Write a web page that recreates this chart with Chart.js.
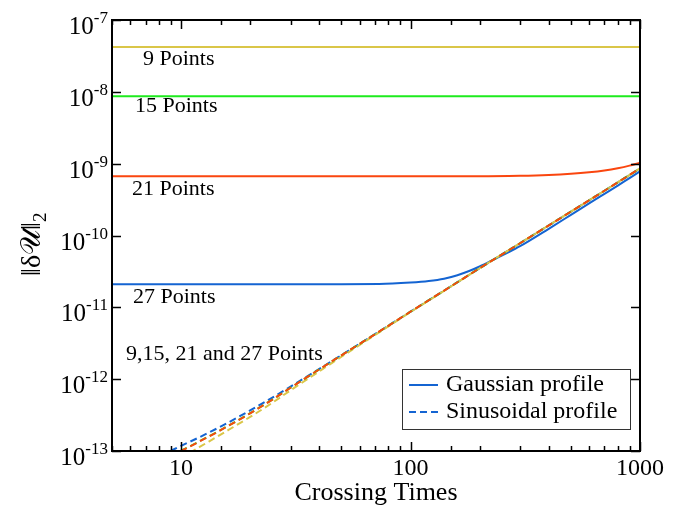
<!DOCTYPE html>
<html>
<head>
<meta charset="utf-8">
<script src="https://cdn.jsdelivr.net/npm/chart.js@4.4.0/dist/chart.umd.min.js"></script>
<style>
  body { margin: 0; background: #fff; }
  canvas { display: block; }
</style>
</head>
<body>
<canvas id="chart" width="688" height="508"></canvas>
<script>
// values (crossing times vs error norm)
const flatTimes = [5, 1000];
const gauss9 = [4.2e-8, 4.2e-8];
const gauss15 = [8.7e-9, 8.7e-9];

const times21 = [5, 200, 300, 400, 500, 600, 700, 800, 900, 1000];
const gauss21 = [6.7e-10, 6.7e-10, 6.8e-10, 6.98e-10, 7.25e-10, 7.6e-10, 8.05e-10, 8.65e-10, 9.4e-10, 1.03e-9];

const times27 = [5, 50, 73, 100, 120, 140, 160, 180, 200, 230, 260, 300, 400, 500, 600, 700, 800, 900, 1000];
const gauss27 = [2.1e-11, 2.1e-11, 2.11e-11, 2.21e-11, 2.32e-11, 2.5e-11, 2.8e-11, 3.2e-11, 3.7e-11, 4.6e-11, 5.6e-11, 7.1e-11, 1.24e-10, 1.94e-10, 2.8e-10, 3.8e-10, 4.95e-10, 6.3e-10, 7.8e-10];

const sinTimes = [9, 10, 12, 15, 20, 25, 30, 50, 70, 100, 150, 200, 300, 500, 700, 1000];
const sin27 = [1.0e-13, 1.18e-13, 1.55e-13, 2.22e-13, 3.67e-13, 5.55e-13, 7.87e-13, 2.16e-12, 4.24e-12, 8.7e-12, 1.96e-11, 3.5e-11, 7.8e-11, 2.15e-10, 4.2e-10, 8.6e-10];
const sin21 = [0.85e-13, 1.0e-13, 1.35e-13, 1.98e-13, 3.35e-13, 5.2e-13, 7.6e-13, 2.15e-12, 4.22e-12, 8.7e-12, 1.96e-11, 3.5e-11, 7.8e-11, 2.15e-10, 4.2e-10, 8.6e-10];
const sin15 = [0.86e-13, 1.01e-13, 1.36e-13, 1.99e-13, 3.36e-13, 5.2e-13, 7.6e-13, 2.15e-12, 4.22e-12, 8.7e-12, 1.96e-11, 3.5e-11, 7.8e-11, 2.15e-10, 4.2e-10, 8.6e-10];
const sin9 = [0.66e-13, 0.8e-13, 1.13e-13, 1.72e-13, 2.98e-13, 4.7e-13, 7.0e-13, 2.05e-12, 4.12e-12, 8.6e-12, 1.95e-11, 3.5e-11, 7.8e-11, 2.15e-10, 4.2e-10, 8.6e-10];

const xLabels = [10, 100, 1000];
const yDecades = [-13, -12, -11, -10, -9, -8, -7];
const legendNames = ['Gaussian profile', 'Sinusoidal profile'];
const noteTexts = ['9 Points', '15 Points', '21 Points', '27 Points', '9,15, 21 and 27 Points'];

const YELLOW = 'rgb(218,198,72)';
const GREEN = 'rgb(30,235,30)';
const ORANGE = 'rgb(250,70,15)';
const BLUE = 'rgb(20,100,210)';
const SERIF = '"Liberation Serif", "DejaVu Serif", serif';

function pts(xs, ys) {
  return xs.map((v, i) => ({ x: v, y: ys[i] }));
}

function line(data, color, dashed, order) {
  return {
    data: data,
    borderColor: color,
    borderWidth: 2,
    borderDash: dashed ? [7, 4] : [],
    pointRadius: 0,
    fill: false,
    cubicInterpolationMode: 'monotone',
    order: order
  };
}

// frame, inward ticks, y labels, notes and legend
const decorations = {
  id: 'decorations',
  afterDatasetsDraw(chart) {
    const { ctx, chartArea: a, scales: { x, y } } = chart;
    ctx.save();

    ctx.strokeStyle = '#000';
    ctx.lineWidth = 1.5;
    ctx.beginPath();
    x.ticks.forEach(t => {
      const px = Math.round(x.getPixelForValue(t.value)) + 0.5;
      const major = Math.abs(Math.log10(t.value) - Math.round(Math.log10(t.value))) < 1e-6;
      const len = major ? 9 : 5;
      ctx.moveTo(px, a.bottom); ctx.lineTo(px, a.bottom - len);
      ctx.moveTo(px, a.top); ctx.lineTo(px, a.top + len);
    });
    yDecades.forEach(d => {
      const py = Math.round(y.getPixelForValue(Math.pow(10, d))) + 0.5;
      ctx.moveTo(a.left, py); ctx.lineTo(a.left + 9, py);
      ctx.moveTo(a.right, py); ctx.lineTo(a.right - 9, py);
    });
    ctx.stroke();

    ctx.lineWidth = 2;
    ctx.strokeRect(a.left, a.top, a.right - a.left, a.bottom - a.top);

    // y tick labels 10^n
    ctx.fillStyle = '#000';
    ctx.textBaseline = 'alphabetic';
    yDecades.forEach(d => {
      const py = y.getPixelForValue(Math.pow(10, d));
      ctx.font = '17px ' + SERIF;
      const sup = '-' + Math.abs(d);
      const sw = ctx.measureText(sup).width;
      ctx.textAlign = 'left';
      ctx.fillText(sup, 108 - sw, py + 3);
      ctx.font = '25px ' + SERIF;
      ctx.textAlign = 'right';
      ctx.fillText('10', 108 - sw, py + 14);
    });

    // y axis title
    ctx.save();
    ctx.translate(40, 244);
    ctx.rotate(-Math.PI / 2);
    ctx.textAlign = 'left';
    ctx.font = '28px ' + SERIF;
    const main = '\u2016\u03b4\ud835\udcb0\u2016';
    const mw = ctx.measureText(main).width;
    ctx.fillText(main, -mw / 2 - 5, 0);
    ctx.font = '19px ' + SERIF;
    ctx.fillText('2', mw / 2 - 5, 6);
    ctx.restore();

    // in-plot notes
    ctx.font = '22px ' + SERIF;
    ctx.textAlign = 'left';
    ctx.textBaseline = 'middle';
    const noteSpots = [[31, 39], [23, 86], [20, 169], [21, 277], [14, 334]];
    noteTexts.forEach((t, i) => {
      ctx.fillText(t, a.left + noteSpots[i][0], a.top + noteSpots[i][1]);
    });

    // legend box
    const bx = a.right - 238, by = a.bottom - 82, bw = 228, bh = 60;
    ctx.fillStyle = '#fff';
    ctx.fillRect(bx, by, bw, bh);
    ctx.strokeStyle = '#333';
    ctx.lineWidth = 1;
    ctx.strokeRect(bx + 0.5, by + 0.5, bw, bh);
    ctx.strokeStyle = BLUE;
    ctx.lineWidth = 2;
    legendNames.forEach((name, i) => {
      const ly = by + 16 + i * 27;
      ctx.setLineDash(i === 1 ? [7, 4] : []);
      ctx.beginPath();
      ctx.moveTo(bx + 7, ly); ctx.lineTo(bx + 36, ly);
      ctx.stroke();
      ctx.fillStyle = '#000';
      ctx.font = '24px ' + SERIF;
      ctx.fillText(name, bx + 44, ly);
    });
    ctx.restore();
  }
};

new Chart(document.getElementById('chart'), {
  type: 'line',
  data: {
    datasets: [
      line(pts(flatTimes, gauss9), YELLOW, false, 5),
      line(pts(flatTimes, gauss15), GREEN, false, 5),
      line(pts(times21, gauss21), ORANGE, false, 5),
      line(pts(times27, gauss27), BLUE, false, 6),
      line(pts(sinTimes, sin27), BLUE, true, 4),
      line(pts(sinTimes, sin9), YELLOW, true, 3),
      line(pts(sinTimes, sin15), GREEN, true, 2),
      line(pts(sinTimes, sin21), ORANGE, true, 1)
    ]
  },
  options: {
    responsive: false,
    animation: false,
    layout: { padding: { top: 20, right: 48 } },
    plugins: { legend: { display: false }, tooltip: { enabled: false } },
    scales: {
      x: {
        type: 'logarithmic',
        min: 5,
        max: 1000,
        grid: { display: false },
        border: { display: false },
        ticks: {
          autoSkip: false,
          maxRotation: 0,
          padding: -5,
          color: '#000',
          font: { family: SERIF, size: 24 },
          callback: (v) => xLabels.includes(v) ? String(v) : ''
        },
        title: {
          display: true,
          text: 'Crossing Times',
          color: '#000',
          font: { family: SERIF, size: 26, lineHeight: 1 },
          padding: { top: 0, bottom: 2 }
        },
        afterFit: (s) => { s.height = 57; }
      },
      y: {
        type: 'logarithmic',
        min: 1e-13,
        max: 1e-7,
        grid: { display: false },
        border: { display: false },
        ticks: { display: false },
        afterFit: (s) => { s.width = 112; }
      }
    }
  },
  plugins: [decorations]
});
</script>
</body>
</html>
